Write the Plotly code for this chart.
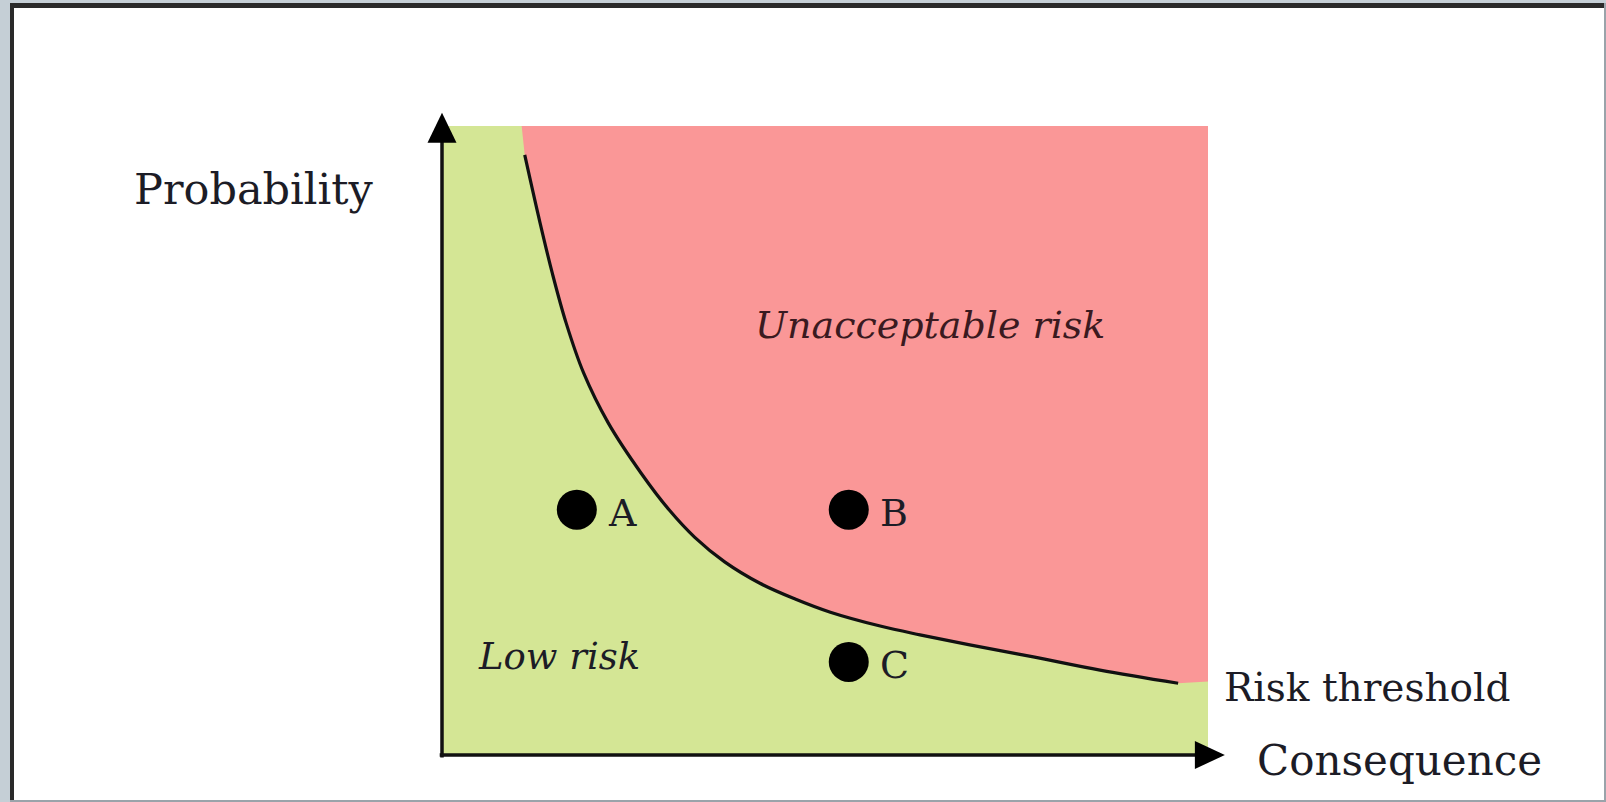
import plotly.graph_objects as go

# ---- data (chart units: the coloured field spans 0..10 on both axes) ----
field_x = [0, 10]
field_y = [0, 10]
axis_tip_x = 10.22
axis_tip_y = 10.21

# risk-threshold curve
curve_x = [1.08, 1.28, 1.44, 1.62, 1.85, 2.17, 2.60, 2.97, 3.30, 3.69, 4.15, 4.61, 5.07, 5.72, 6.24, 6.89, 7.72, 8.59, 9.61]
curve_y = [9.54, 8.46, 7.66, 6.87, 6.07, 5.28, 4.48, 3.89, 3.46, 3.07, 2.73, 2.48, 2.27, 2.05, 1.91, 1.75, 1.56, 1.35, 1.14]
red_top_x = 1.04
red_right_y = 1.17

point_names = ["A", "B", "C"]
point_x = [1.76, 5.31, 5.31]
point_y = [3.90, 3.90, 1.48]

# ---- pixel geometry of the canvas ----
W, H = 1606, 802
ox, oy = 442, 755          # pixel of data origin
sx, sy = 76.6, 62.9        # pixels per data unit
xr = [(0 - ox) / sx, (W - ox) / sx]
yr = [(oy - H) / sy, oy / sy]

GREEN = "#d4e695"
RED = "#fa9797"
INK = "#1c1c26"
SERIF = "DejaVu Serif, Liberation Serif, serif"

fig = go.Figure()

# low-risk field
fig.add_trace(go.Scatter(
    x=[field_x[0], field_x[1], field_x[1], field_x[0]],
    y=[field_y[0], field_y[0], field_y[1], field_y[1]],
    fill="toself", fillcolor=GREEN, mode="none", hoverinfo="skip"))

# unacceptable-risk field
fig.add_trace(go.Scatter(
    x=[red_top_x] + curve_x + [field_x[1], field_x[1]],
    y=[field_y[1]] + curve_y + [red_right_y, field_y[1]],
    fill="toself", fillcolor=RED, mode="none", hoverinfo="skip"))

# threshold curve
fig.add_trace(go.Scatter(
    x=curve_x, y=curve_y, mode="lines",
    line=dict(color="#111111", width=3.2, shape="spline", smoothing=1.0),
    hoverinfo="skip"))

# axes as arrows
fig.add_trace(go.Scatter(x=[0, 0], y=[-0.04, axis_tip_y - 0.4], mode="lines",
                         line=dict(color="#111111", width=3.5), hoverinfo="skip"))
fig.add_trace(go.Scatter(x=[-0.03, axis_tip_x - 0.3], y=[0, 0], mode="lines",
                         line=dict(color="#111111", width=3.5), hoverinfo="skip"))

# points
fig.add_trace(go.Scatter(
    x=point_x, y=point_y, mode="markers",
    marker=dict(size=40, color="#000000"), hoverinfo="skip"))

shapes = [
    dict(type="path", xref="x", yref="y", xsizemode="pixel", ysizemode="pixel",
         xanchor=0, yanchor=axis_tip_y, path="M0,0 L-14.5,-30 L14.5,-30 Z",
         fillcolor="#000000", line=dict(width=0)),
    dict(type="path", xref="x", yref="y", xsizemode="pixel", ysizemode="pixel",
         xanchor=axis_tip_x, yanchor=0, path="M0,0 L-30,14 L-30,-14 Z",
         fillcolor="#000000", line=dict(width=0)),
    # window frame
    dict(type="rect", xref="paper", yref="paper", x0=0, x1=10 / W, y0=0, y1=1,
         fillcolor="#c5cfd6", line=dict(width=0)),
    dict(type="rect", xref="paper", yref="paper", x0=0, x1=1, y0=1 - 3 / H, y1=1,
         fillcolor="#c5cfd6", line=dict(width=0)),
    dict(type="rect", xref="paper", yref="paper", x0=10 / W, x1=14 / W, y0=0, y1=1 - 3 / H,
         fillcolor="#2a2a2a", line=dict(width=0)),
    dict(type="rect", xref="paper", yref="paper", x0=10 / W, x1=1, y0=1 - 8 / H, y1=1 - 3 / H,
         fillcolor="#2a2a2a", line=dict(width=0)),
    dict(type="rect", xref="paper", yref="paper", x0=1 - 2 / W, x1=1, y0=0, y1=1 - 3 / H,
         fillcolor="#9aa3aa", line=dict(width=0)),
    dict(type="rect", xref="paper", yref="paper", x0=10 / W, x1=1, y0=0, y1=2 / H,
         fillcolor="#9aa3aa", line=dict(width=0)),
]

annotations = [
    dict(x=-2.45, y=9.0, text="Probability", xanchor="center", yanchor="middle",
         font=dict(family=SERIF, size=43, color=INK)),
    dict(x=6.37, y=6.84, text="<i>Unacceptable risk</i>", xanchor="center", yanchor="middle",
         font=dict(family=SERIF, size=38, color="#3a1a20")),
    dict(x=1.53, y=1.57, text="<i>Low risk</i>", xanchor="center", yanchor="middle",
         font=dict(family=SERIF, size=37, color=INK)),
    dict(x=10.18, y=1.08, text="Risk threshold", xanchor="left", yanchor="middle",
         font=dict(family=SERIF, size=39, color=INK)),
    dict(x=10.61, y=-0.08, text="Consequence", xanchor="left", yanchor="middle",
         font=dict(family=SERIF, size=42, color=INK)),
]
for name, px_, py_ in zip(point_names, point_x, point_y):
    annotations.append(dict(x=px_, y=py_, text=name, xanchor="left", yanchor="middle",
                            xshift=29, yshift=-3,
                            font=dict(family=SERIF, size=38, color=INK)))
for a in annotations:
    a["showarrow"] = False
    a["xref"] = "x"
    a["yref"] = "y"

fig.update_layout(
    width=W, height=H, margin=dict(l=0, r=0, t=0, b=0),
    paper_bgcolor="#ffffff", plot_bgcolor="#ffffff",
    showlegend=False,
    xaxis=dict(range=xr, visible=False, fixedrange=True),
    yaxis=dict(range=yr, visible=False, fixedrange=True),
    shapes=shapes, annotations=annotations,
)

fig.write_html("out.html", include_plotlyjs=True,
               config={"displayModeBar": False, "staticPlot": True},
               post_script="document.body.style.margin='0px';document.body.style.overflow='hidden';")
